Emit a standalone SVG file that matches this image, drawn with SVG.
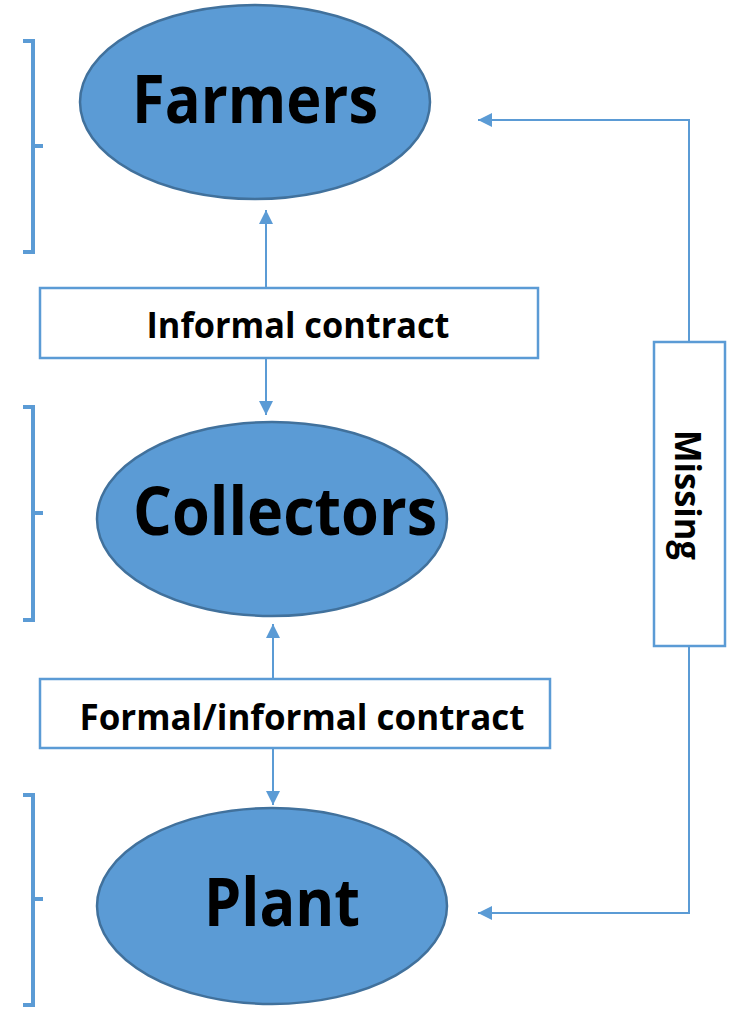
<svg xmlns="http://www.w3.org/2000/svg" width="734" height="1009" viewBox="0 0 734 1009">
<defs>
<style>
.ell{fill:#5B9BD5;stroke:#41719C;stroke-width:2.5}
.box{fill:#fff;stroke:#5B9BD5;stroke-width:2.5}
.ln{fill:none;stroke:#5B9BD5;stroke-width:2}
.br{fill:none;stroke:#5B9BD5;stroke-width:4}
.big{font-family:"Open Sans","Liberation Sans",Arial,sans-serif;font-weight:bold;font-size:66px;fill:#000;text-anchor:middle}
.lbl{font-family:"Open Sans","Liberation Sans",Arial,sans-serif;font-weight:bold;font-size:36px;fill:#000;text-anchor:middle}
</style>
<marker id="ah" viewBox="0 0 10 10" refX="10" refY="5" markerWidth="7" markerHeight="7" orient="auto-start-reverse" markerUnits="strokeWidth">
<path d="M0,0 L10,5 L0,10 z" fill="#5B9BD5"/>
</marker>
</defs>
<g id="brackets">
<path class="br" d="M23,41 H33 V252 H23 M33,146 H43"/>
<path class="br" d="M23,407 H33 V620 H23 M33,513 H43"/>
<path class="br" d="M23,795 H33 V1005 H23 M33,899 H43"/>
</g>
<g id="farmers">
<ellipse class="ell" cx="255" cy="102" rx="175" ry="97"/>
<text class="big" x="255" y="123" textLength="246" lengthAdjust="spacingAndGlyphs">Farmers</text>
</g>
<g id="collectors">
<ellipse class="ell" cx="272" cy="519" rx="175" ry="97"/>
<text class="big" x="285" y="535" textLength="304" lengthAdjust="spacingAndGlyphs">Collectors</text>
</g>
<g id="plant">
<ellipse class="ell" cx="272" cy="906" rx="175" ry="98"/>
<text class="big" x="282" y="926" textLength="156" lengthAdjust="spacingAndGlyphs">Plant</text>
</g>
<g id="connectors">
<line class="ln" x1="266" y1="288" x2="266" y2="210" marker-end="url(#ah)"/>
<line class="ln" x1="266" y1="358" x2="266" y2="415" marker-end="url(#ah)"/>
<line class="ln" x1="273" y1="679" x2="273" y2="624" marker-end="url(#ah)"/>
<line class="ln" x1="273" y1="748" x2="273" y2="805" marker-end="url(#ah)"/>
<polyline class="ln" points="689,342 689,120 478,120" marker-end="url(#ah)"/>
<polyline class="ln" points="689,646 689,913 478,913" marker-end="url(#ah)"/>
</g>
<g id="informal">
<rect class="box" x="40" y="288" width="498" height="70"/>
<text class="lbl" x="298" y="338" textLength="303" lengthAdjust="spacingAndGlyphs">Informal contract</text>
</g>
<g id="formal">
<rect class="box" x="40" y="679" width="510" height="69"/>
<text class="lbl" x="302" y="730" textLength="445" lengthAdjust="spacingAndGlyphs">Formal/informal contract</text>
</g>
<g id="missing">
<rect class="box" x="654" y="342" width="71" height="304"/>
<text class="lbl" transform="translate(675,495) rotate(90)" x="0" y="0" textLength="130" lengthAdjust="spacingAndGlyphs">Missing</text>
</g>
</svg>
